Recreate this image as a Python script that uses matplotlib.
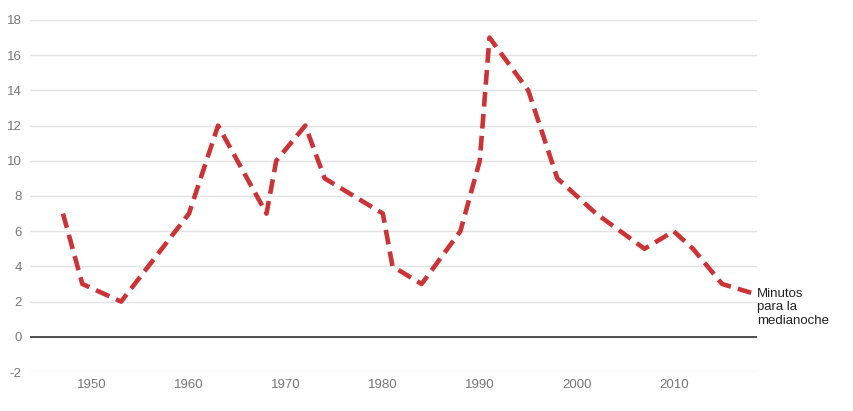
import matplotlib
matplotlib.use("Agg")
import matplotlib.pyplot as plt

years = [1947, 1949, 1953, 1960, 1963, 1968, 1969, 1972, 1974, 1980, 1981, 1984,
         1988, 1990, 1991, 1995, 1998, 2002, 2007, 2010, 2012, 2015, 2018]
minutes = [7, 3, 2, 7, 12, 7, 10, 12, 9, 7, 4, 3,
           6, 10, 17, 14, 9, 7, 5, 6, 5, 3, 2.5]
xticks = [1950, 1960, 1970, 1980, 1990, 2000, 2010]
yticks = [-2, 0, 2, 4, 6, 8, 10, 12, 14, 16, 18]
series_label = "Minutos\npara la\nmedianoche"

plt.rcParams['font.family'] = ['Liberation Sans', 'DejaVu Sans']
plt.rcParams['axes.unicode_minus'] = False

fig = plt.figure(figsize=(8.54, 4.11), dpi=100)
ax = fig.add_axes([30/854, 1-372/411, (757-30)/854, (372-20)/411])

ax.set_xlim(1943.6, 2018.6)
ax.set_ylim(-2, 18)
ax.set_yticks(yticks)
ax.set_xticks(xticks)
ax.grid(axis='y', color='#e3e3e3', linewidth=1)
ax.set_axisbelow(True)
ax.axhline(0, color='#222222', linewidth=1.1, zorder=2)

ax.plot(years, minutes, color='#cc3336', linewidth=3.3, linestyle=(0, (3.2, 1.6)),
        solid_capstyle='butt', dash_capstyle='butt', zorder=3)

for s in ax.spines.values():
    s.set_visible(False)
ax.tick_params(axis='both', length=0, labelsize=9.5, labelcolor='#777777')
ax.tick_params(axis='y', pad=6)
ax.tick_params(axis='x', pad=5)

ax.text(1.0, 2.8, series_label, transform=ax.get_yaxis_transform(),
        ha='left', va='top', fontsize=9.5, color='#222222', linespacing=1.2)

fig.savefig("out.png", dpi=100, facecolor='white')
